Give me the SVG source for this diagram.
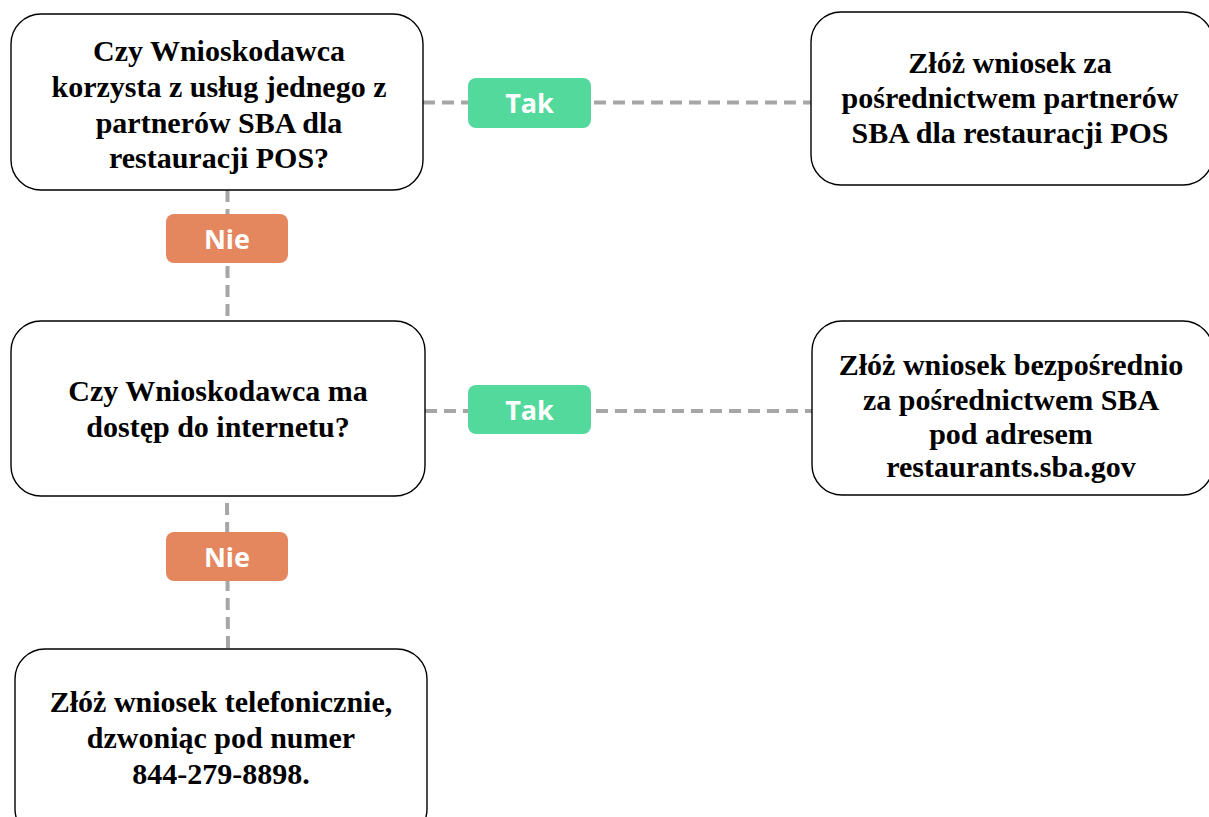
<svg xmlns="http://www.w3.org/2000/svg" width="1209" height="817" viewBox="0 0 1209 817">
<style>
.box{fill:#fff;stroke:#000;stroke-width:1.4}
.t{font-family:"Liberation Serif","Times New Roman",serif;font-weight:bold;font-size:30px;fill:#000;text-anchor:middle}
.c{stroke:#A6A6A6;stroke-width:4;stroke-dasharray:12 7;fill:none}
.lbl{font-family:"Open Sans","Liberation Sans",sans-serif;font-weight:bold;font-size:27px;fill:#fff;text-anchor:middle}
.yes{fill:#53D99B}
.no{fill:#E4875F}
</style>
<rect width="1209" height="817" fill="#fff"/>
<g id="connectors">
<line class="c" x1="423" y1="102.5" x2="811" y2="102.5"/>
<line class="c" x1="227.5" y1="190" x2="227.5" y2="321"/>
<line class="c" x1="425" y1="411" x2="812" y2="411"/>
<line class="c" x1="227" y1="503" x2="228" y2="649"/>
</g>
<g id="q1">
<rect class="box" x="11" y="14" width="412" height="176" rx="30"/>
<text class="t" x="219" y="61">Czy Wnioskodawca</text>
<text class="t" x="219" y="97">korzysta z usług jednego z</text>
<text class="t" x="219" y="133">partnerów SBA dla</text>
<text class="t" x="219" y="168">restauracji POS?</text>
</g>
<g id="a1">
<rect class="box" x="811" y="12" width="402" height="173" rx="30"/>
<text class="t" x="1010" y="73">Złóż wniosek za</text>
<text class="t" x="1010" y="108">pośrednictwem partnerów</text>
<text class="t" x="1010" y="143">SBA dla restauracji POS</text>
</g>
<g id="q2">
<rect class="box" x="11" y="321" width="414" height="175" rx="30"/>
<text class="t" x="218" y="401">Czy Wnioskodawca ma</text>
<text class="t" x="218" y="437">dostęp do internetu?</text>
</g>
<g id="a2">
<rect class="box" x="812" y="321" width="401" height="174" rx="30"/>
<text class="t" x="1011" y="375">Złóż wniosek bezpośrednio</text>
<text class="t" x="1011" y="410">za pośrednictwem SBA</text>
<text class="t" x="1011" y="444">pod adresem</text>
<text class="t" x="1011" y="477">restaurants.sba.gov</text>
</g>
<g id="a3">
<rect class="box" x="15" y="649" width="412" height="190" rx="30"/>
<text class="t" x="221" y="712">Złóż wniosek telefonicznie,</text>
<text class="t" x="221" y="748">dzwoniąc pod numer</text>
<text class="t" x="221" y="784">844-279-8898.</text>
</g>
<g id="tak1">
<rect class="yes" x="468" y="78" width="123" height="50" rx="8"/>
<text class="lbl" x="529.5" y="113">Tak</text>
</g>
<g id="nie1">
<rect class="no" x="166" y="214" width="122" height="49" rx="8"/>
<text class="lbl" x="227" y="249">Nie</text>
</g>
<g id="tak2">
<rect class="yes" x="468" y="385" width="123" height="49" rx="8"/>
<text class="lbl" x="529.5" y="420">Tak</text>
</g>
<g id="nie2">
<rect class="no" x="166" y="532" width="122" height="49" rx="8"/>
<text class="lbl" x="227" y="567">Nie</text>
</g>
</svg>
